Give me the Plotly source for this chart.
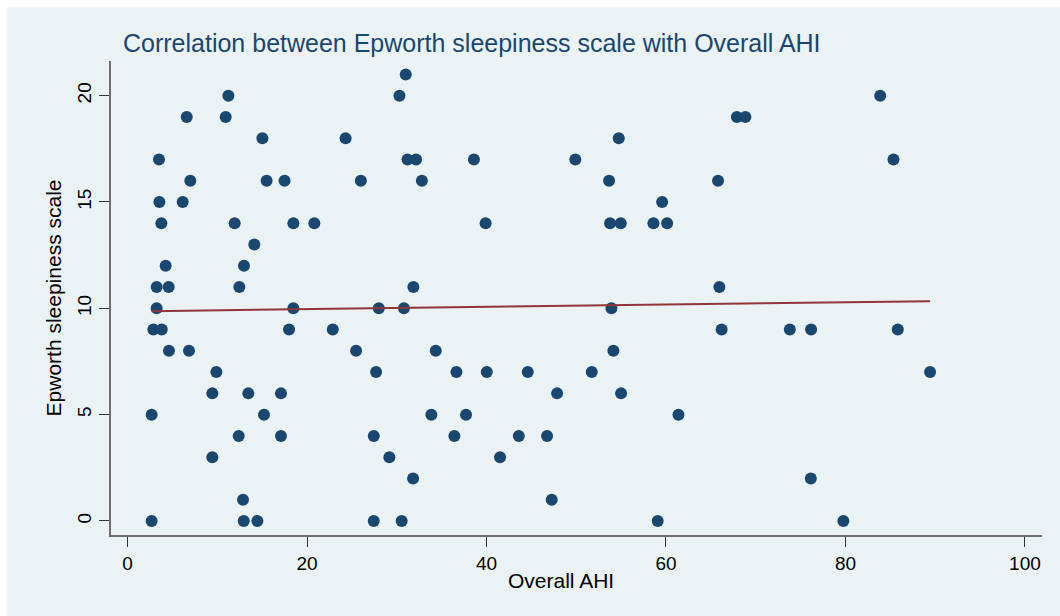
import numpy as np
import plotly.graph_objects as go

# Overall AHI (x) and Epworth sleepiness scale (y)
ahi = [11.24, 6.6, 10.94, 15.03, 24.3, 3.51, 7.0, 15.5, 17.5, 3.55,
       6.15, 3.77, 11.94, 18.48, 20.82, 14.13, 4.25, 12.98, 3.25, 4.59,
       12.46, 3.25, 18.48, 2.88, 3.81, 18.0, 22.87, 4.62, 6.85, 9.9,
       9.45, 13.46, 17.1, 2.69, 15.21, 12.39, 17.1, 9.45, 12.87, 2.69,
       12.95, 14.47,
       31.0, 30.3, 31.2, 32.15, 38.6, 49.9, 26.0, 32.8, 39.9, 31.85,
       28.0, 30.8, 25.47, 34.35, 27.7, 36.65, 40.03, 44.6, 47.87, 33.86,
       37.72, 27.44, 36.42, 43.6, 46.75, 29.18, 41.51, 31.82, 47.27, 27.44,
       30.55,
       67.9, 68.85, 54.74, 53.66, 65.8, 59.57, 53.77, 54.96, 58.6, 60.13,
       65.95, 53.92, 66.2, 73.8, 76.17, 54.14, 51.73, 55.0, 61.39, 76.14,
       59.08,
       83.87, 85.35, 85.83, 89.43, 79.77]
ess = [20, 19, 19, 18, 18, 17, 16, 16, 16, 15,
       15, 14, 14, 14, 14, 13, 12, 12, 11, 11,
       11, 10, 10, 9, 9, 9, 9, 8, 8, 7,
       6, 6, 6, 5, 5, 4, 4, 3, 1, 0,
       0, 0,
       21, 20, 17, 17, 17, 17, 16, 16, 14, 11,
       10, 10, 8, 8, 7, 7, 7, 7, 6, 5,
       5, 4, 4, 4, 4, 3, 3, 2, 1, 0,
       0,
       19, 19, 18, 16, 16, 15, 14, 14, 14, 14,
       11, 10, 9, 9, 9, 8, 7, 6, 5, 2,
       0,
       20, 17, 9, 7, 0]

x_ticks = [0, 20, 40, 60, 80, 100]
y_ticks = [0, 5, 10, 15, 20]

title = "Correlation between Epworth sleepiness scale with Overall AHI"
x_title = "Overall AHI"
y_title = "Epworth sleepiness scale"

# linear fit
slope, intercept = np.polyfit(ahi, ess, 1)
fx = np.array([min(ahi), max(ahi)])
fy = intercept + slope * fx

navy = "#1a476f"
bg = "#eaf2f3"

fig = go.Figure()
fig.add_trace(go.Scatter(
    x=ahi, y=ess, mode="markers",
    marker=dict(symbol="circle", size=12, color=navy, line=dict(width=0)),
    showlegend=False, hoverinfo="x+y"))
fig.add_trace(go.Scatter(
    x=fx, y=fy, mode="lines",
    line=dict(color="#90353b", width=2),
    showlegend=False))

fig.add_shape(type="rect", xref="paper", yref="paper",
              x0=-0.1117, x1=1.05, y0=-0.3, y1=1.1139,
              fillcolor=bg, line=dict(width=0), layer="below")

fig.add_annotation(text=x_title, xref="paper", yref="paper",
                   x=(561 - 111) / 931, y=-(580 - 535) / 474,
                   xanchor="center", yanchor="middle", showarrow=False,
                   font=dict(size=21, color="#000000"))

fig.update_layout(
    width=1060, height=616,
    margin=dict(l=111, r=18, t=61, b=81),
    paper_bgcolor="white",
    plot_bgcolor="white",
    font=dict(family="Liberation Sans, Arial, sans-serif", color="#000000"),
    title=dict(text=title, x=123/1060, xanchor="left", y=1-43/616, yanchor="middle",
               font=dict(size=25, color=navy)),
    xaxis=dict(range=[-1.84, 101.9], tickvals=x_ticks, ticks="outside", ticklen=10,
               tickcolor="#333333", tickwidth=1, showgrid=False, zeroline=False,
               showline=True, linecolor="#6e6e6e", linewidth=2,
               tickfont=dict(size=19)),
    yaxis=dict(range=[-0.66, 21.63], tickvals=y_ticks, ticks="outside", ticklen=10,
               tickcolor="#333333", tickwidth=1, showgrid=True, gridcolor=bg, gridwidth=2,
               zeroline=False, showline=True, linecolor="#6e6e6e", linewidth=2,
               tickangle=-90, tickfont=dict(size=19),
               title=dict(text=y_title, font=dict(size=21), standoff=7)),
)

fig.write_html("out.html")
